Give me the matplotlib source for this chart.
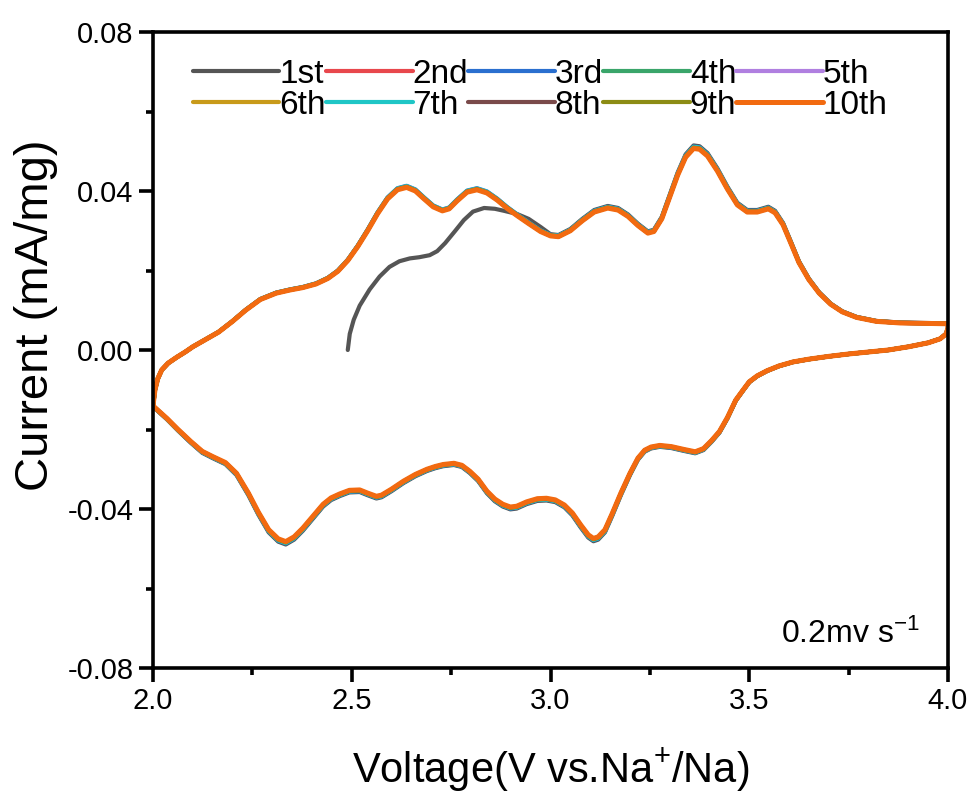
import numpy as np
import matplotlib.pyplot as plt
from matplotlib.ticker import MultipleLocator

plt.rcParams['font.family'] = ['Liberation Sans', 'DejaVu Sans']
plt.rcParams['mathtext.fontset'] = 'custom'
plt.rcParams['mathtext.rm'] = 'Liberation Sans'
plt.rcParams['mathtext.it'] = 'Liberation Sans'

# anodic sweep 2.0 -> 4.0 V (cycles 2-10)
anodic_v = np.array([2.000, 2.005, 2.012, 2.022, 2.038, 2.060, 2.081, 2.100, 2.130, 2.165,
                     2.200, 2.233, 2.270, 2.310, 2.345, 2.377, 2.410, 2.440, 2.465, 2.490,
                     2.515, 2.540, 2.565, 2.590, 2.615, 2.638, 2.660, 2.682, 2.705, 2.728,
                     2.745, 2.765, 2.790, 2.815, 2.840, 2.866, 2.890, 2.916, 2.945, 2.975,
                     3.000, 3.020, 3.050, 3.080, 3.110, 3.144, 3.170, 3.195, 3.220, 3.245,
                     3.260, 3.280, 3.300, 3.320, 3.340, 3.360, 3.375, 3.395, 3.420, 3.445,
                     3.470, 3.495, 3.520, 3.548, 3.565, 3.585, 3.605, 3.625, 3.650, 3.676,
                     3.705, 3.734, 3.770, 3.820, 3.880, 3.947, 4.000])
anodic_i = np.array([-0.0140, -0.0100, -0.0072, -0.0050, -0.0033, -0.0018, -0.0005, 0.0008, 0.0025, 0.0045,
                     0.0072, 0.0100, 0.0127, 0.0143, 0.0151, 0.0157, 0.0166, 0.0180, 0.0198, 0.0225,
                     0.0260, 0.0300, 0.0343, 0.0380, 0.0403, 0.0409, 0.0400, 0.0380, 0.0360, 0.0350,
                     0.0355, 0.0375, 0.0397, 0.0403, 0.0395, 0.0377, 0.0357, 0.0338, 0.0318, 0.0298,
                     0.0287, 0.0285, 0.0300, 0.0325, 0.0347, 0.0357, 0.0352, 0.0336, 0.0313, 0.0294,
                     0.0298, 0.0330, 0.0385, 0.0440, 0.0485, 0.0507, 0.0505, 0.0488, 0.0450, 0.0405,
                     0.0365, 0.0347, 0.0347, 0.0355, 0.0345, 0.0315, 0.0268, 0.0220, 0.0177, 0.0143,
                     0.0115, 0.0096, 0.0082, 0.0072, 0.0068, 0.0067, 0.0066])

# cathodic sweep 4.0 -> 2.0 V
cathodic_v = np.array([4.000, 3.995, 3.980, 3.950, 3.900, 3.850, 3.800, 3.750, 3.700, 3.650,
                       3.610, 3.575, 3.545, 3.520, 3.500, 3.485, 3.466, 3.445, 3.425, 3.405,
                       3.385, 3.364, 3.335, 3.304, 3.275, 3.253, 3.237, 3.220, 3.200, 3.177,
                       3.155, 3.137, 3.120, 3.108, 3.095, 3.076, 3.055, 3.035, 3.012, 2.990,
                       2.967, 2.940, 2.915, 2.899, 2.880, 2.860, 2.840, 2.818, 2.797, 2.777,
                       2.757, 2.730, 2.710, 2.689, 2.660, 2.630, 2.600, 2.575, 2.562, 2.540,
                       2.520, 2.494, 2.470, 2.448, 2.428, 2.405, 2.377, 2.355, 2.334, 2.315,
                       2.291, 2.265, 2.240, 2.210, 2.182, 2.150, 2.124, 2.095, 2.063, 2.035,
                       2.005, 2.000])
cathodic_i = np.array([0.0055, 0.0040, 0.0028, 0.0018, 0.0008, 0.0000, -0.0005, -0.0010, -0.0016, -0.0023,
                       -0.0030, -0.0040, -0.0052, -0.0065, -0.0080, -0.0100, -0.0126, -0.0170, -0.0205, -0.0228,
                       -0.0248, -0.0256, -0.0250, -0.0243, -0.0240, -0.0244, -0.0252, -0.0272, -0.0310, -0.0360,
                       -0.0412, -0.0452, -0.0470, -0.0474, -0.0465, -0.0440, -0.0410, -0.0390, -0.0377, -0.0373,
                       -0.0374, -0.0382, -0.0393, -0.0395, -0.0388, -0.0375, -0.0355, -0.0325, -0.0305, -0.0290,
                       -0.0285, -0.0288, -0.0293, -0.0300, -0.0313, -0.0330, -0.0350, -0.0365, -0.0368, -0.0360,
                       -0.0352, -0.0353, -0.0362, -0.0372, -0.0388, -0.0415, -0.0448, -0.0470, -0.0482, -0.0475,
                       -0.0452, -0.0408, -0.0360, -0.0310, -0.0283, -0.0268, -0.0255, -0.0230, -0.0200, -0.0172,
                       -0.0145, -0.0140])

# first cycle starts at open-circuit voltage
first_v = np.array([2.490, 2.495, 2.505, 2.520, 2.545, 2.570, 2.595, 2.620, 2.646, 2.670,
                    2.696, 2.715, 2.735, 2.760, 2.782, 2.805, 2.833, 2.860, 2.883, 2.916,
                    2.945, 2.975])
first_i = np.array([0.0000, 0.0040, 0.0075, 0.0110, 0.0150, 0.0182, 0.0206, 0.0220, 0.0227, 0.0230,
                    0.0235, 0.0245, 0.0265, 0.0295, 0.0322, 0.0343, 0.0352, 0.0350, 0.0345, 0.0337,
                    0.0325, 0.0305])

labels = ['1st', '2nd', '3rd', '4th', '5th', '6th', '7th', '8th', '9th', '10th']
colors = ['#555555', '#e8474c', '#2a6fcf', '#3aa56a', '#b07fe0',
          '#c89a1a', '#1fc6c6', '#7a4a4a', '#8c8c14', '#f26a10']
# small peak-current spread between cycles
cycle_gain = [1.015, 1.006, 1.01, 1.004, 1.002, 1.005, 1.008, 1.003, 1.004, 1.0]

fig = plt.figure(figsize=(9.77, 7.96), dpi=100)
ax = fig.add_axes([153 / 977, 1 - 668 / 796, 795 / 977, 636 / 796])

tail = anodic_v >= 3.0
handles = []
for k, (lab, col, g) in enumerate(zip(labels, colors, cycle_gain)):
    if k == 0:
        v = np.concatenate([first_v, anodic_v[tail], cathodic_v])
        i = np.concatenate([first_i, anodic_i[tail], cathodic_i]) * g
    else:
        v = np.concatenate([anodic_v, cathodic_v])
        i = np.concatenate([anodic_i, cathodic_i]) * g
    lw = 3.6 if k == 9 else 3.0
    h, = ax.plot(v, i, color=col, lw=lw, label=lab,
                 solid_capstyle='round', solid_joinstyle='round')
    handles.append(h)

ax.set_xlim(2.0, 4.0)
ax.set_ylim(-0.08, 0.08)
ax.xaxis.set_major_locator(MultipleLocator(0.5))
ax.xaxis.set_minor_locator(MultipleLocator(0.25))
ax.yaxis.set_major_locator(MultipleLocator(0.04))
ax.yaxis.set_minor_locator(MultipleLocator(0.02))
ax.yaxis.set_major_formatter(plt.FormatStrFormatter('%.2f'))
ax.xaxis.set_major_formatter(plt.FormatStrFormatter('%.1f'))

for s in ax.spines.values():
    s.set_linewidth(2.6)
ax.tick_params(which='major', direction='out', length=10, width=2.6, labelsize=21, pad=4)
ax.tick_params(which='minor', direction='out', length=5, width=2.6)

ax.set_xlabel('Voltage(V vs.Na$^{+}$/Na)', fontsize=30, labelpad=22)
ax.set_ylabel('Current (mA/mg)', fontsize=34)
ax.yaxis.set_label_coords(-0.12, 0.555)

ax.text(0.965, 0.039, '0.2mv s$^{-1}$', transform=ax.transAxes,
        ha='right', va='baseline', fontsize=23)

# legend filled row by row: 1st-5th on top, 6th-10th below
order = [0, 5, 1, 6, 2, 7, 3, 8, 4, 9]
ax.legend([handles[j] for j in order], [labels[j] for j in order],
          loc='upper left', bbox_to_anchor=(0.05, 0.958), ncol=5, frameon=False,
          fontsize=24, handlelength=2.6, handletextpad=0.0, columnspacing=0.0,
          labelspacing=0.0, borderaxespad=0, borderpad=0)

fig.savefig('out.png', dpi=100)
